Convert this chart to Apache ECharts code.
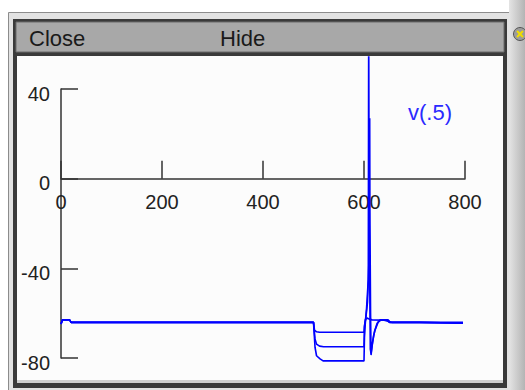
<!DOCTYPE html>
<html>
<head>
<meta charset="utf-8">
<script src="https://cdn.jsdelivr.net/npm/echarts@6/dist/echarts.min.js"></script>
<style>
html,body{margin:0;padding:0;background:#fff;}
#chart{width:525px;height:390px;}
</style>
</head>
<body>
<div id="chart"></div>
<script>
// ---- data (time ms, voltage mV) ----
const xTicks = [0, 200, 400, 600, 800];
const yTicks = [-80, -40, 0, 40];
const traceLabel = 'v(.5)';
const buttons = ['Close', 'Hide'];

const trace1 = [[0,-64.8],[3,-63.0],[17,-63.0],[20,-64.1],[500,-64.1],[502,-67.6],[506,-68.3],[512,-68.5],[600,-68.5],[601,-65.5],[603,-62.8],[606,-62.2],[610,-62.6],[616,-63.0],[640,-63.1],[655,-64.1],[796,-64.1]];
const trace2 = [[0,-64.8],[3,-63.0],[17,-63.0],[20,-64.1],[500,-64.1],[503,-71.5],[506,-73.8],[512,-74.7],[520,-75.0],[600,-75.0],[601,-66],[604,-61.5],[607,-55],[610.8,-30],[611.3,27],[611.8,-20],[613,-60],[614,-78.7],[616,-74.5],[619,-70],[622,-67.5],[628,-64],[634,-63],[645,-63],[650,-64.1],[710,-64.1],[796,-64.5]];
const trace3 = [[0,-64.8],[3,-63.0],[17,-63.0],[20,-64.1],[500,-64.1],[503,-75.2],[506,-79],[513,-80.4],[519,-81.3],[600,-81.3],[601,-70],[603,-63],[605,-58],[608.5,-45],[609.3,70],[610.2,-10],[611.5,-50],[612.5,-76],[614,-78],[617,-73],[621,-68],[626,-64.5],[632,-63],[648,-63],[652,-64.1],[710,-64.1],[796,-64.5]];

const chart = echarts.init(document.getElementById('chart'), null, {renderer: 'svg'});
const font = 'Liberation Sans, Arial, Helvetica, sans-serif';
const axisColor = '#333333';
const blue = '#0000ff';

// axes grid: x 0..800 -> 61..465 px; y -80..40 -> 358..89 px
// data grid covers the whole white panel with the same scale
const gTop = 89, gH = 269, gLeft = 61, gW = 404;
const pxPerT = gW / 800, pxPerV = gH / 120;
const x0 = gLeft, yZero = gTop + 40 * pxPerV;
const pL = 17, pR = 503, pT = 57, pB = 383;

const mkLine = (d) => ({
  type: 'line', xAxisIndex: 1, yAxisIndex: 1, data: d, showSymbol: false,
  lineStyle: {color: blue, width: 1.6}, clip: true, animation: false, z: 5
});

chart.setOption({
  animation: false,
  backgroundColor: '#ffffff',
  grid: [
    {left: gLeft, top: gTop, width: gW, height: gH},
    {left: pL, top: pT, width: pR - pL, height: pB - pT}
  ],
  xAxis: [
    {type: 'value', gridIndex: 0, position: 'bottom', offset: -(gTop + gH - yZero),
     min: xTicks[0], max: xTicks[xTicks.length-1], interval: 200,
     axisLine: {show: true, onZero: false, lineStyle: {color: axisColor, width: 1.5}},
     axisTick: {show: true, inside: true, length: 18, lineStyle: {color: axisColor, width: 1.5}},
     axisLabel: {margin: 13, fontSize: 20, color: '#222', fontFamily: font},
     splitLine: {show: false}, z: 3},
    {type: 'value', gridIndex: 1, min: (pL - x0) / pxPerT, max: (pR - x0) / pxPerT, show: false}
  ],
  yAxis: [
    {type: 'value', gridIndex: 0, min: yTicks[0], max: yTicks[yTicks.length-1], interval: 40,
     axisLine: {show: true, onZero: false, lineStyle: {color: axisColor, width: 1.5}},
     axisTick: {show: true, inside: true, length: 17, lineStyle: {color: axisColor, width: 1.5}},
     axisLabel: {margin: 11, fontSize: 20, color: '#222', fontFamily: font, verticalAlign: 'top', lineHeight: 9},
     splitLine: {show: false}, z: 3},
    {type: 'value', gridIndex: 1, min: (yZero - pB) / pxPerV, max: (yZero - pT) / pxPerV, show: false}
  ],
  series: [mkLine(trace1), mkLine(trace2), mkLine(trace3)],
  graphic: [
    {type: 'rect', z: -10, shape: {x: 8.5, y: 12.5, width: 501, height: 380}, style: {fill: '#e2e2e2', stroke: '#8c8c8c', lineWidth: 1}},
    {type: 'rect', z: -9, shape: {x: 13, y: 19, width: 494, height: 369}, style: {fill: '#3a3a3a'}},
    {type: 'rect', z: -8, shape: {x: 17, y: 56, width: 486, height: 327}, style: {fill: '#fcfcfc'}},
    {type: 'rect', z: -7, shape: {x: 17, y: 380, width: 486, height: 3}, style: {fill: '#cfcfcf'}},
    {type: 'rect', z: 50, shape: {x: 16, y: 22, width: 488, height: 30}, style: {fill: '#a8a8a8', stroke: '#6a6a6a', lineWidth: 1}},
    {type: 'rect', z: 50, shape: {x: 509, y: 0, width: 16, height: 390}, style: {fill: {type: 'linear', x: 0, y: 0, x2: 1, y2: 0, colorStops: [{offset: 0, color: '#e4e4e4'}, {offset: 1, color: '#b4b4b4'}]}}},
    {type: 'circle', z: 51, shape: {cx: 520, cy: 34, r: 6.5}, style: {fill: '#9c9c9c', stroke: '#555', lineWidth: 1}},
    {type: 'line', z: 52, shape: {x1: 517, y1: 31, x2: 523, y2: 37}, style: {stroke: '#f0dc00', lineWidth: 2}},
    {type: 'line', z: 52, shape: {x1: 523, y1: 31, x2: 517, y2: 37}, style: {stroke: '#f0dc00', lineWidth: 2}},
    {type: 'text', z: 53, x: 29, y: 38, style: {text: buttons[0], font: '22px ' + font, fill: '#1a1a1a', textVerticalAlign: 'middle', verticalAlign: 'middle'}},
    {type: 'text', z: 53, x: 220, y: 38, style: {text: buttons[1], font: '22px ' + font, fill: '#1a1a1a', textVerticalAlign: 'middle', verticalAlign: 'middle'}},
    {type: 'text', z: 53, x: 408, y: 112, style: {text: traceLabel, font: '22px ' + font, fill: '#2a2aff', textVerticalAlign: 'middle', verticalAlign: 'middle'}}
  ]
});
</script>
</body>
</html>
